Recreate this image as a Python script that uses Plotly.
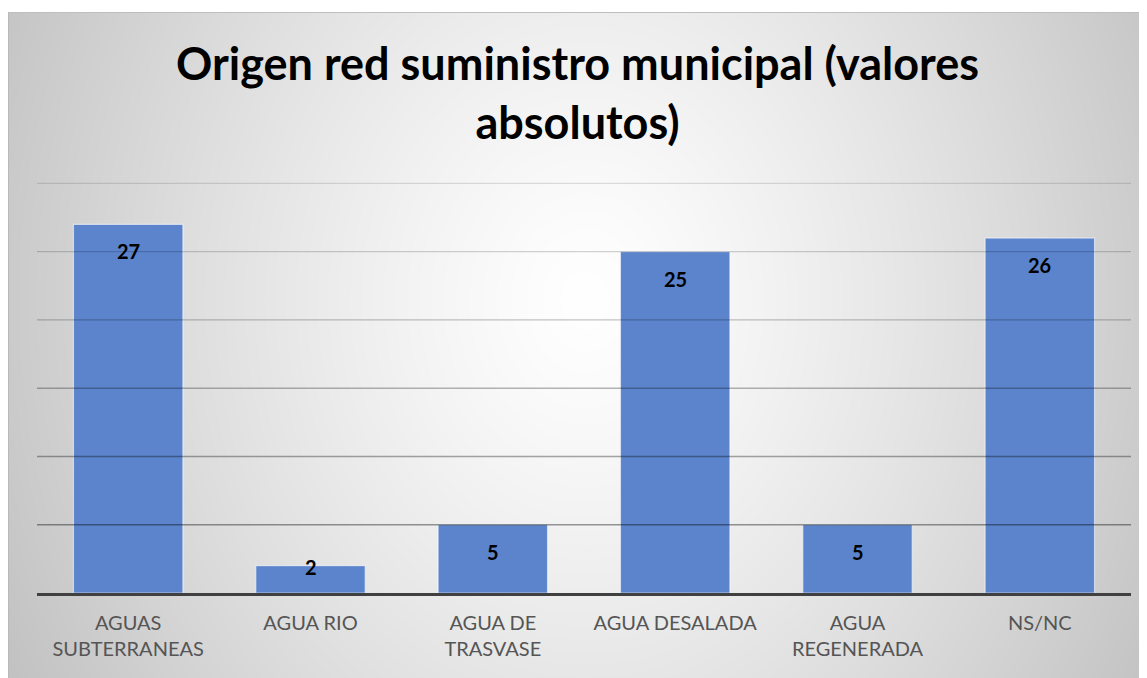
import zlib, struct, base64
import numpy as np
import plotly.graph_objects as go

categories = ["AGUAS<br>SUBTERRANEAS", "AGUA RIO", "AGUA DE<br>TRASVASE",
              "AGUA DESALADA", "AGUA<br>REGENERADA", "NS/NC"]
values = [27, 2, 5, 25, 5, 26]
y_ticks = [0, 5, 10, 15, 20, 25, 30]

# the page body adds an 8px offset; figure is sized to fit the window
OFF = 8
W, H = 1147 - OFF, 678 - OFF
ML, MR, MT, MB = 37 - OFF, 16, 183 - OFF - 2, 85
PW, PH = W - ML - MR, H - MT - MB

# radial gradient background (pure-python PNG)
BY0 = 12 - OFF
bw, bh = W, H - BY0
yy, xx = np.mgrid[0:bh, 0:bw]
dx = (xx + OFF - 585) / 575.0
dy = (yy + BY0 + OFF - 300) / 700.0
d = np.sqrt(dx ** 2 + dy ** 2)
img = 255 - 52 * np.power(d, 1.25)
img = np.clip(img, 190, 255).astype(np.uint8)
img[0, :] = 190
img[:, 0] = 185


def png_gray(arr):
    h, w = arr.shape
    raw = b"".join(b"\x00" + arr[i].tobytes() for i in range(h))

    def chunk(t, dd):
        return (struct.pack(">I", len(dd)) + t + dd +
                struct.pack(">I", zlib.crc32(t + dd) & 0xffffffff))
    return (b"\x89PNG\r\n\x1a\n" +
            chunk(b"IHDR", struct.pack(">IIBBBBB", w, h, 8, 0, 0, 0, 0)) +
            chunk(b"IDAT", zlib.compress(raw, 9)) + chunk(b"IEND", b""))


src = "data:image/png;base64," + base64.b64encode(png_gray(img)).decode()

fig = go.Figure()
fig.add_trace(go.Bar(
    x=categories, y=values,
    marker=dict(color="#5b84cc", line=dict(color="rgba(255,255,255,0.55)", width=1.2)),
    hoverinfo="x+y",
))

ymax = y_ticks[-1]
yrange_top = ymax * 1.006
px_per_unit = PH / yrange_top
label_font = dict(family="Lato", size=20, color="black", weight="bold")
for c, v in zip(categories, values):
    if v * px_per_unit >= 45:
        fig.add_annotation(x=c, y=v, text=str(v), showarrow=False, yanchor="top",
                           yshift=-13, font=label_font)
    else:
        fig.add_annotation(x=c, y=v, text=str(v), showarrow=False, yanchor="middle",
                           yshift=-1, font=label_font)

# gridlines drawn above the bars, fading toward the top
for t in y_ticks[1:]:
    alpha = 0.45 - 0.011 * t
    fig.add_shape(type="line", xref="paper", x0=0, x1=1, yref="y", y0=t, y1=t,
                  line=dict(color=f"rgba(0,0,0,{alpha:.3f})", width=1.3), layer="above")

fig.add_layout_image(dict(
    source=src, xref="paper", yref="paper",
    x=-ML / PW, y=(H - MB - BY0) / PH,
    sizex=bw / PW, sizey=bh / PH,
    xanchor="left", yanchor="top", sizing="stretch", layer="below",
))

fig.update_layout(
    width=W, height=H,
    margin=dict(l=ML, r=MR, t=MT, b=MB, pad=0),
    paper_bgcolor="white", plot_bgcolor="rgba(0,0,0,0)",
    bargap=0.4, showlegend=False,
    font=dict(family="Lato"),
    title=dict(text="Origen red suministro municipal (valores<br>absolutos)",
               x=0.5, xanchor="center", xref="container",
               y=1 - 72 / H, yanchor="top", yref="container",
               font=dict(family="Lato", size=45, color="black", weight="bold")),
    xaxis=dict(showline=True, linecolor="#404040", linewidth=3, ticks="",
               ticklabelstandoff=10, layer="above traces",
               tickfont=dict(family="Lato", size=20, color="#555555"),
               showgrid=False, fixedrange=True),
    yaxis=dict(range=[0, yrange_top], tickvals=y_ticks, showticklabels=False,
               showgrid=False, zeroline=False, fixedrange=True),
)

fig.write_html("out.html")
